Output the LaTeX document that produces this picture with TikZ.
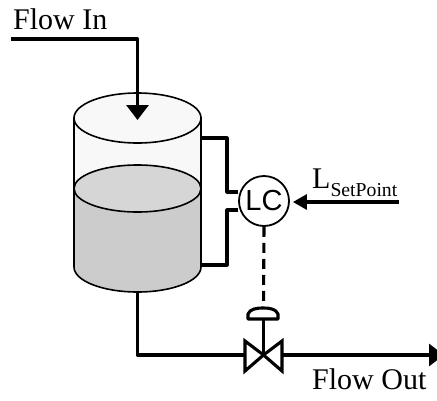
\documentclass[tikz,border=0pt]{standalone}
\usepackage{fontspec}
\setmainfont{Liberation Serif}
\newfontfamily\lcfont{Liberation Sans}
\usetikzlibrary{arrows.meta, positioning}
\definecolor{liquid}{RGB}{204, 204, 204}
\definecolor{surface}{RGB}{214, 214, 214}
\definecolor{vessel}{RGB}{248, 248, 248}

\begin{document}
\begin{tikzpicture}[
    x=1pt, y=-1pt,
    label/.style={inner sep=0pt, anchor=base west, font=\fontsize{30}{30}\selectfont},
    outline/.style={draw, line width=1.6pt},
    pipe/.style={line width=3.1pt, line join=round},
    bigarrow/.style={pipe, -{Triangle[length=15pt, width=22pt]}},
    smallarrow/.style={pipe, shorten >=3pt, -{Triangle[length=14pt, width=15pt]}},
    signal/.style={line width=3.1pt, dash pattern=on 10pt off 6pt},
    controller/.style={circle, draw, line width=1.8pt, fill=white, minimum size=50pt, inner sep=0pt, font=\lcfont\fontsize{29}{29}\selectfont}
]
\useasboundingbox (0,0) rectangle (437,400);

% tank
\path[outline, fill=vessel] (74,118) -- (74,188.5) -- (201,188.5) -- (201,118) -- cycle;
\path[outline, fill=liquid] (74,188.5) -- (74,267) arc[start angle=180, end angle=360, x radius=63.5, y radius=-25] -- (201,188.5) -- cycle;
\path[outline, fill=surface] (137.5,188.5) ellipse[x radius=63.5, y radius=23.5];
\path[outline, fill=vessel] (137.5,118) ellipse[x radius=63.5, y radius=25];

\node[controller] (lc) at (264,201) {LC};

\coordinate (inlet) at (11,39);
\coordinate (intip) at (137.5,120);
\coordinate (hightap) at (201,138);
\coordinate (lowtap) at (201,265);
\coordinate (setfree) at (399,202);
\coordinate (drain) at (137.5,292);
\coordinate (valve) at (263.5,355);
\coordinate (valveL) at (245,355);
\coordinate (valveR) at (282,355);
\coordinate (outlet) at (444,355);
\coordinate (dome) at (263.5,319);

\draw[bigarrow] (inlet) -| (intip);
\draw[pipe] (hightap) -- (227,138) -- (227,192) -- (lc.west |- 0,192);
\draw[pipe] (lowtap) -- (227,265) -- (227,210) -- (lc.west |- 0,210);
\draw[smallarrow] (setfree) -- (lc.east |- setfree);
\draw[signal] (lc.south) -- (dome |- 0,308);

% valve and actuator
\draw[pipe] (drain) |- (valveL);
\draw[bigarrow] (valveR) -- (outlet);
\draw[pipe] (valve) -- (dome);
\draw[pipe, line join=miter] (valve) -- (245,341) -- (245,371) -- cycle;
\draw[pipe, line join=miter] (valve) -- (282,341) -- (282,371) -- cycle;
\draw[pipe] (248,319) -- (278,319) -- (278,314) .. controls (276,309) and (270,308) .. (263.5,308) .. controls (256,308) and (250,309) .. (248,314) -- cycle;

\node[label] (flowin) at (13,29) {Flow In};
\node[label] (flowout) at (312,389) {Flow Out};
\node[label] (setpoint) at (312,188) {L\raisebox{-8pt}{\fontsize{19.7}{20}\selectfont SetPoint}};
\end{tikzpicture}
\end{document}
